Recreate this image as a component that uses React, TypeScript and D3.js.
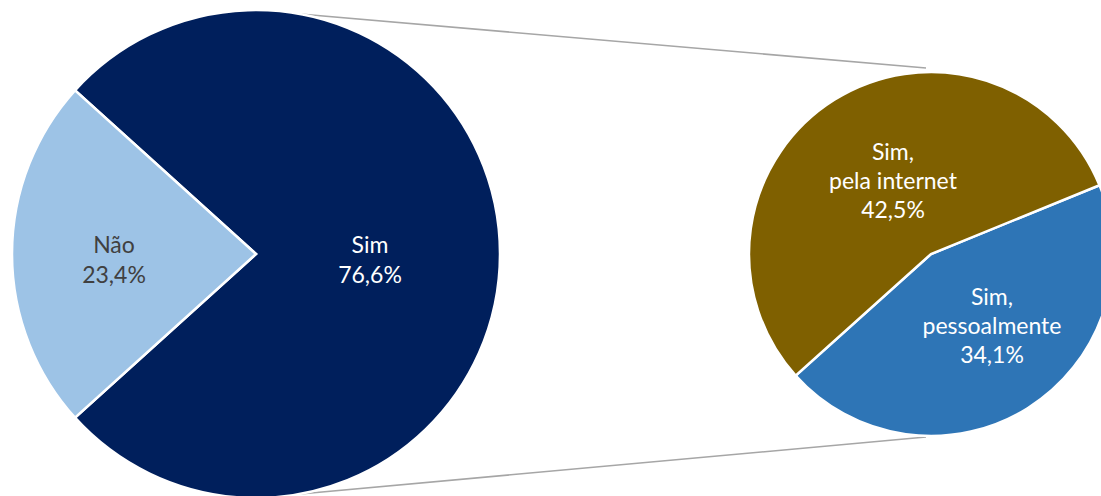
import React from "react";
import * as d3 from "d3";

const mainCategories = ["Sim", "Não"];
const mainValues = [76.6, 23.4];
const mainLabels = ["76,6%", "23,4%"];

const subCategories = ["Sim,\npessoalmente", "Sim,\npela internet"];
const subValues = [34.1, 42.5];
const subLabels = ["34,1%", "42,5%"];

const W = 1101;
const H = 496;
const deg = Math.PI / 180;

const mainColors = ["#001F5C", "#9DC3E6"];
const mainText = ["#FFFFFF", "#404040"];
const subColors = ["#2E75B6", "#7F6000"];
const FONT = "Lato, 'Open Sans', sans-serif";

export default function App() {
  // main pie
  const cx1 = 256, cy1 = 254, r1 = 244;
  const naoAngle = (mainValues[1] / d3.sum(mainValues)) * 360;
  const start1 = (-90 + naoAngle / 2) * deg; // Não centred on the left
  const pie1 = d3.pie<number>().sort(null).startAngle(start1).endAngle(start1 + 2 * Math.PI);
  const arcs1 = pie1(mainValues);
  const arc1 = d3.arc<d3.PieArcDatum<number>>().innerRadius(0).outerRadius(r1);

  // secondary pie
  const cx2 = 931, cy2 = 254, r2 = 182;
  const start2 = 67.8 * deg;
  const pie2 = d3.pie<number>().sort(null).startAngle(start2).endAngle(start2 + 2 * Math.PI);
  const arcs2 = pie2(subValues);
  const arc2 = d3.arc<d3.PieArcDatum<number>>().innerRadius(0).outerRadius(r2);

  // connector lines
  const a = 10.4 * deg;
  const top1 = [cx1 + r1 * Math.sin(a), cy1 - r1 * Math.cos(a)];
  const bot1 = [cx1 + r1 * Math.sin(a), cy1 + r1 * Math.cos(a)];
  const top2 = [cx2 - 5, cy2 - r2 - 4];
  const bot2 = [cx2 - 5, cy2 + r2 + 1];

  const mainLabelPos = [
    [370, 253],
    [114, 253],
  ];
  const subLabelPos = [
    [992, 305],
    [893, 160],
  ];
  const lh = 29;

  return (
    <svg
      width={W}
      height={H}
      style={{ position: "fixed", left: 0, top: 0, display: "block", background: "#fff" }}
      fontFamily={FONT}
    >
      <line x1={top1[0]} y1={top1[1]} x2={top2[0]} y2={top2[1]} stroke="#A6A6A6" strokeWidth={1.6} />
      <line x1={bot1[0]} y1={bot1[1]} x2={bot2[0]} y2={bot2[1]} stroke="#A6A6A6" strokeWidth={1.6} />
      <g transform={`translate(${cx1},${cy1})`}>
        {arcs1.map((d, i) => (
          <path key={i} d={arc1(d) || ""} fill={mainColors[i]} stroke="#fff" strokeWidth={2.5} strokeLinejoin="miter" />
        ))}
      </g>
      <g transform={`translate(${cx2},${cy2})`}>
        {arcs2.map((d, i) => (
          <path key={i} d={arc2(d) || ""} fill={subColors[i]} stroke="#fff" strokeWidth={2.5} strokeLinejoin="miter" />
        ))}
      </g>
      {mainCategories.map((c, i) => (
        <text key={c} x={mainLabelPos[i][0]} y={mainLabelPos[i][1]} textAnchor="middle" fontSize={23} fill={mainText[i]}>
          <tspan x={mainLabelPos[i][0]}>{c}</tspan>
          <tspan x={mainLabelPos[i][0]} dy={lh + 1}>{mainLabels[i]}</tspan>
        </text>
      ))}
      {subCategories.map((c, i) => {
        const lines = c.split("\n");
        return (
          <text key={c} x={subLabelPos[i][0]} y={subLabelPos[i][1]} textAnchor="middle" fontSize={23} fill="#FFFFFF">
            {lines.map((l, j) => (
              <tspan key={j} x={subLabelPos[i][0]} dy={j === 0 ? 0 : lh}>{l}</tspan>
            ))}
            <tspan x={subLabelPos[i][0]} dy={lh}>{subLabels[i]}</tspan>
          </text>
        );
      })}
    </svg>
  );
}
